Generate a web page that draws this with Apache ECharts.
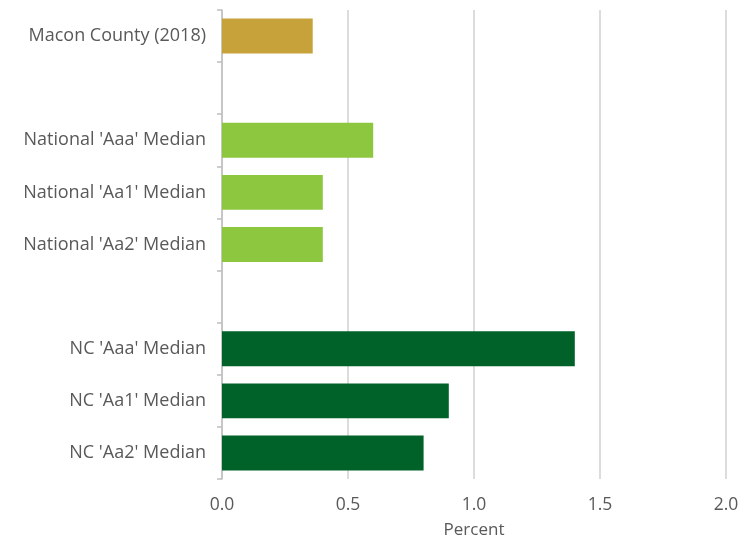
<!DOCTYPE html>
<html>
<head>
<meta charset="utf-8">
<script src="https://cdn.jsdelivr.net/npm/echarts@6/dist/echarts.min.js"></script>
<style>
  html, body { margin: 0; padding: 0; background: #ffffff; }
  #chart { width: 749px; height: 544px; }
</style>
</head>
<body>
<div id="chart"></div>
<script>
// Categories top to bottom; empty strings leave a gap between the groups
const categories = [
  'Macon County (2018)',
  '',
  "National 'Aaa' Median",
  "National 'Aa1' Median",
  "National 'Aa2' Median",
  '',
  "NC 'Aaa' Median",
  "NC 'Aa1' Median",
  "NC 'Aa2' Median"
];
const values = [0.36, null, 0.6, 0.4, 0.4, null, 1.4, 0.9, 0.8];
const barColors = ['#C7A23A', null, '#8DC63F', '#8DC63F', '#8DC63F', null, '#006228', '#006228', '#006228'];
const xTicks = { min: 0, max: 2, interval: 0.5 };
const xTitle = 'Percent';

const textColor = '#595959';
const fontFamily = 'Open Sans, Liberation Sans, sans-serif';

const chart = echarts.init(document.getElementById('chart'));
chart.setOption({
  animation: false,
  grid: { left: 222, right: 23, top: 10, bottom: 64, containLabel: false },
  xAxis: {
    type: 'value',
    min: xTicks.min, max: xTicks.max, interval: xTicks.interval,
    name: xTitle,
    nameLocation: 'middle',
    nameGap: 43,
    nameTextStyle: { color: textColor, fontSize: 17, fontFamily },
    axisLine: { show: false },
    axisTick: { show: false },
    axisLabel: {
      color: textColor, fontSize: 17.5, fontFamily, margin: 17,
      formatter: v => v.toFixed(1)
    },
    splitLine: { show: true, lineStyle: { color: '#d0d0d0', width: 1.5 } }
  },
  yAxis: {
    type: 'category',
    inverse: true,
    data: categories,
    axisLine: { show: true, lineStyle: { color: '#bfbfbf', width: 1.5 } },
    axisTick: { show: true, interval: 0, length: 5, lineStyle: { color: '#bfbfbf', width: 1.5 } },
    axisLabel: { color: textColor, fontSize: 18, fontFamily, margin: 16, interval: 0 }
  },
  series: [{
    type: 'bar',
    barCategoryGap: '33%',
    data: values.map((v, i) => v == null ? '-' : { value: v, itemStyle: { color: barColors[i] } }),
    z: 1
  }]
});
</script>
</body>
</html>
